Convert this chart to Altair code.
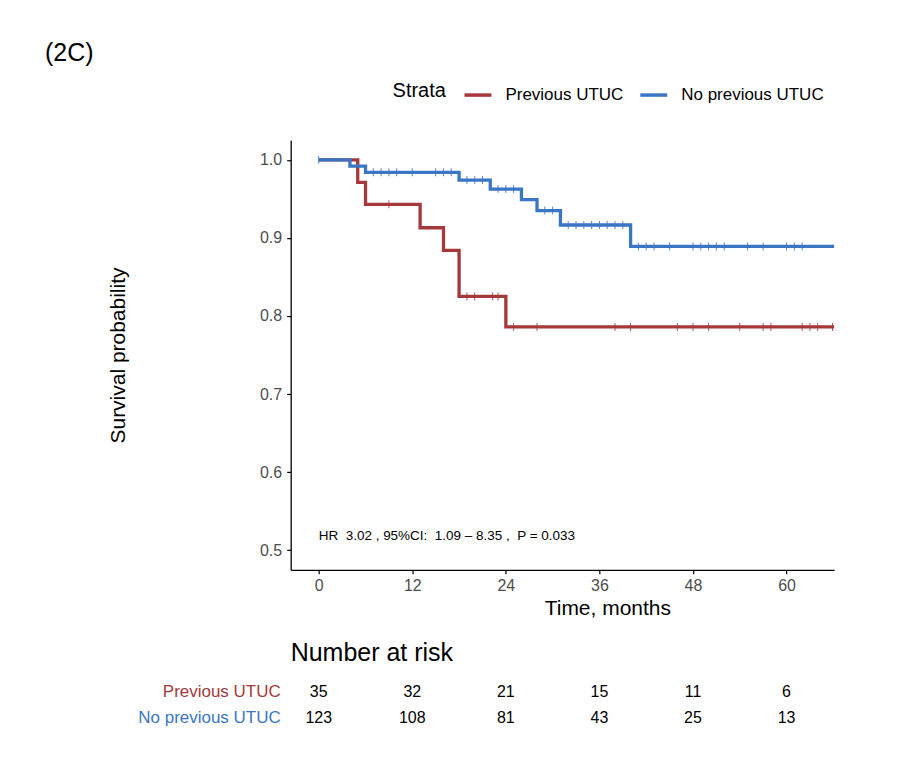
import altair as alt
import pandas as pd

FONT = "Liberation Sans"

groups = ["Previous UTUC", "No previous UTUC"]
colors = ["#A5383A", "#3A76C3"]

# Kaplan-Meier step points (time in months, survival probability)
prev_time = [0, 5, 6, 13, 16, 18, 24, 66.1]
prev_surv = [1.0, 0.971, 0.943, 0.913, 0.884, 0.825, 0.786, 0.786]
noprev_time = [0, 4, 6, 18, 22, 26, 28, 31, 40, 66.1]
noprev_surv = [1.0, 0.992, 0.984, 0.974, 0.9625, 0.949, 0.935, 0.9165, 0.889, 0.889]

# censoring marks (months)
prev_cens = [9, 19, 20, 22.3, 23, 25, 28, 38, 40, 46, 48, 50, 54, 57, 58, 62, 63, 64, 65.9]
noprev_cens = [0, 7, 8, 9, 10, 12, 15, 16, 17, 19, 20, 21, 23, 24, 25, 29, 30,
               32, 33, 34, 35, 36, 37, 38, 39, 41, 42, 43, 45, 48, 49, 50, 51, 52,
               55, 57, 60, 61, 62]

# number at risk
risk_times = [0, 12, 24, 36, 48, 60]
risk_prev = [35, 32, 21, 15, 11, 6]
risk_noprev = [123, 108, 81, 43, 25, 13]

NB = "\u00a0"
annotation = f"HR{NB}{NB}3.02 , 95%CI:{NB}{NB}1.09 \u2013 8.35 ,{NB}{NB}P = 0.033"
panel_label = "(2C)"


def step_value(times, survs, t):
    v = survs[0]
    for tt, s in zip(times, survs):
        if tt <= t:
            v = s
    return v


df_prev = pd.DataFrame({"time": prev_time, "surv": prev_surv, "Strata": groups[0]})
df_noprev = pd.DataFrame({"time": noprev_time, "surv": noprev_surv, "Strata": groups[1]})
df_cens = pd.DataFrame(
    {"time": prev_cens + noprev_cens,
     "surv": [step_value(prev_time, prev_surv, t) for t in prev_cens]
     + [step_value(noprev_time, noprev_surv, t) for t in noprev_cens],
     "Strata": [groups[0]] * len(prev_cens) + [groups[1]] * len(noprev_cens)})
df_risk_prev = pd.DataFrame({"time": risk_times, "n": risk_prev})
df_risk_noprev = pd.DataFrame({"time": risk_times, "n": risk_noprev})

x_scale = alt.Scale(domain=[-3.6, 66.1], nice=False, zero=False)
y_scale = alt.Scale(domain=[0.475, 1.025], nice=False, zero=False)
color_scale = alt.Scale(domain=groups, range=colors)

x_axis = alt.Axis(values=risk_times, title="Time, months", grid=False,
                  titleX=317, titleY=45, titleBaseline="alphabetic", titleAlign="center",
                  titleFontSize=21, titleFont=FONT, titleFontWeight="normal", titleColor="black",
                  labelFontSize=16, labelFont=FONT, labelColor="#4D4D4D", labelPadding=4,
                  tickSize=4, tickColor="black", tickWidth=1.2,
                  domainColor="black", domainWidth=1.3)
y_axis = alt.Axis(values=[0.5, 0.6, 0.7, 0.8, 0.9, 1.0], format=".1f", title="Survival probability",
                  grid=False, titleX=-166, titleY=215, titleAngle=270, titleBaseline="alphabetic",
                  titleAlign="center", titleFontSize=21, titleFont=FONT, titleFontWeight="normal",
                  titleColor="black", labelFontSize=16, labelFont=FONT, labelColor="#4D4D4D",
                  labelPadding=5, tickSize=4, tickColor="black", tickWidth=1.2,
                  domainColor="black", domainWidth=1.3)

legend = alt.Legend(title="Strata", orient="none", legendX=102, legendY=-61,
                    direction="horizontal", titleOrient="left", symbolType="stroke",
                    symbolSize=729, symbolStrokeWidth=3.5, symbolOpacity=1,
                    labelFontSize=17, titleFontSize=20,
                    titleFont=FONT, labelFont=FONT, titleFontWeight="normal",
                    titleColor="black", labelColor="black", labelOffset=12,
                    columnPadding=9, titlePadding=16)

X = alt.X("time:Q", scale=x_scale, axis=x_axis)
Y = alt.Y("surv:Q", scale=y_scale, axis=y_axis)
C = alt.Color("Strata:N", scale=color_scale, legend=legend, sort=groups)

line_prev = alt.Chart(df_prev).mark_line(interpolate="step-after", strokeWidth=3.3, strokeCap="butt").encode(x=X, y=Y, color=C)
line_noprev = alt.Chart(df_noprev).mark_line(interpolate="step-after", strokeWidth=3.3, strokeCap="butt").encode(x=X, y=Y, color=C)
ticks = alt.Chart(df_cens).mark_tick(orient="vertical", size=8, thickness=1, opacity=0.85).encode(x=X, y=Y, color=C)

hr_text = alt.Chart(pd.DataFrame({"time": [0], "label": [annotation]})).mark_text(
    align="left", baseline="middle", fontSize=13.5, font=FONT, color="black"
).encode(x=X, y=alt.value(396), text="label:N")

title_text = alt.Chart(pd.DataFrame({"label": [panel_label]})).mark_text(
    align="left", baseline="middle", fontSize=25, font=FONT, color="black"
).encode(x=alt.value(-246), y=alt.value(-87), text="label:N")

risk_title = alt.Chart(pd.DataFrame({"label": ["Number at risk"]})).mark_text(
    align="left", baseline="middle", fontSize=25, font=FONT, color="black"
).encode(x=alt.value(0), y=alt.value(513), text="label:N")

row_lab_prev = alt.Chart(pd.DataFrame({"label": [groups[0]]})).mark_text(
    align="right", baseline="middle", fontSize=17, font=FONT, color=colors[0]
).encode(x=alt.value(-10), y=alt.value(552), text="label:N")
row_lab_noprev = alt.Chart(pd.DataFrame({"label": [groups[1]]})).mark_text(
    align="right", baseline="middle", fontSize=17, font=FONT, color=colors[1]
).encode(x=alt.value(-10), y=alt.value(578), text="label:N")

risk_row_prev = alt.Chart(df_risk_prev).mark_text(
    align="center", baseline="middle", fontSize=16, font=FONT, color="black"
).encode(x=X, y=alt.value(552), text="n:Q")
risk_row_noprev = alt.Chart(df_risk_noprev).mark_text(
    align="center", baseline="middle", fontSize=16, font=FONT, color="black"
).encode(x=X, y=alt.value(578), text="n:Q")

chart = alt.layer(
    line_prev, line_noprev, ticks, hr_text, title_text, risk_title,
    row_lab_prev, row_lab_noprev, risk_row_prev, risk_row_noprev
).properties(
    width=544, height=430,
    background="white",
    autosize=alt.AutoSizeParams(type="none"),
    padding={"left": 283, "top": 132, "right": 66, "bottom": 180},
).configure_view(stroke=None)

chart.save("out.html", embed_options={"renderer": "svg", "actions": False})
